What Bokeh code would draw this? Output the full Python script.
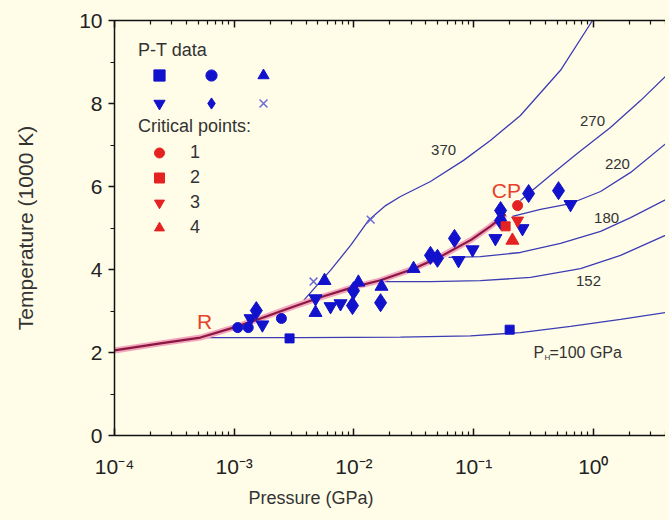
from bokeh.plotting import figure
from bokeh.models import (FixedTicker, LogAxis, Range1d, Legend, LegendItem, Label, Title,
                          CustomJSTickFormatter, GlobalInlineStyleSheet)
from bokeh.embed import file_html
from bokeh.resources import INLINE

FONT = "Liberation Sans"
BG = "#FFFDE8"
BLUE = "#1212CC"
LINE_BLUE = "#3C3CB4"
RED = "#E42222"
TXT = "#333333"

# ---------------- data ----------------
# axis ticks
X_TICKS = [1e-4, 1e-3, 1e-2, 1e-1, 1e0]
X_LABELS = ["10\u207b\u2074", "10\u207b\u00b3", "10\u207b\u00b2", "10\u207b\u00b9", "10\u2070"]
Y_TICKS = [0, 2, 4, 6, 8, 10]
Y_MINOR = [1, 3, 5, 7, 9]

# liquid-vapour (saturation) curve, P in GPa, T in 1000 K
SAT_P = [1e-4, 2.42e-4, 5.22e-4, 9.86e-4, 1.66e-3, 2.95e-3, 5.26e-3, 9.73e-3,
         1.67e-2, 3.15e-2, 5.28e-2, 9.6e-2, 0.138, 0.185]
SAT_T = [2.05, 2.22, 2.36, 2.60, 2.82, 3.08, 3.33, 3.57, 3.74, 4.02, 4.31, 4.72, 5.04, 5.33]

# release isentropes (labelled by Hugoniot pressure P_H, GPa)
ISE100_P = [5.22e-4, 3.58e-3, 0.0245, 0.0942, 0.246, 0.645, 1.69, 4.34]
ISE100_T = [2.36, 2.36, 2.37, 2.40, 2.48, 2.63, 2.80, 2.98]
ISE152_P = [0.0167, 0.0436, 0.114, 0.299, 0.782, 1.69, 4.34]
ISE152_T = [3.71, 3.71, 3.73, 3.81, 4.02, 4.34, 4.87]
ISE180_P = [0.0617, 0.114, 0.246, 0.532, 1.15, 2.05, 4.34]
ISE180_T = [4.29, 4.31, 4.41, 4.63, 4.92, 5.25, 5.73]
ISE220_P = [0.211, 0.362, 0.645, 1.15, 2.05, 4.34]
ISE220_T = [5.28, 5.45, 5.59, 5.88, 6.34, 7.11]
ISE270_P = [0.246, 0.288, 0.439, 0.738, 1.39, 2.48, 4.34]
ISE270_T = [5.66, 5.83, 6.27, 6.80, 7.42, 8.07, 8.75]
ISE370_P = [3.79e-3, 5.06e-3, 6.37e-3, 9.38e-3, 0.0132, 0.0184, 0.0245, 0.0436,
            0.0824, 0.138, 0.246, 0.532, 0.984, 1.26]
ISE370_T = [3.25, 3.66, 3.98, 4.58, 5.18, 5.54, 5.76, 6.12, 6.63, 7.11, 7.71, 8.80, 10.0, 10.48]

# P-T data sets
SQ_P = [2.90e-3, 0.200]
SQ_T = [2.34, 2.55]
CI_P = [1.07e-3, 1.31e-3, 2.48e-3]
CI_T = [2.60, 2.60, 2.82]
TR_P = [5.68e-3, 4.78e-3, 0.0109, 0.0170, 0.0315]
TR_T = [3.73, 2.96, 3.69, 3.59, 4.02]
IT_P = [1.37e-3, 1.72e-3, 4.78e-3, 6.38e-3, 7.73e-3, 0.0748, 0.098, 0.152, 0.256, 0.645]
IT_T = [2.82, 2.67, 3.30, 3.11, 3.18, 4.22, 4.48, 4.75, 4.99, 5.57]
DI_P = [1.53e-3, 9.73e-3, 9.93e-3, 0.0167, 0.0436, 0.0499, 0.0692, 0.168, 0.168, 0.288, 0.512]
DI_T = [3.01, 3.13, 3.49, 3.20, 4.34, 4.27, 4.75, 5.42, 5.18, 5.83, 5.90]
XX_P = [4.6e-3, 0.0138]
XX_T = [3.71, 5.20]

# critical points 1-4
CRIT_P = [0.233, 0.185, 0.233, 0.211]
CRIT_T = [5.54, 5.04, 5.18, 4.70]
CRIT_NAMES = ["1", "2", "3", "4"]

# curve labels
CURVE_LABELS = ["370", "270", "220", "180", "152"]
CURVE_LABEL_P = [0.0561, 0.984, 1.59, 1.29, 0.912]
CURVE_LABEL_T = [6.87, 7.57, 6.55, 5.25, 3.73]

X_MIN, X_MAX = 1e-4, 10 ** 0.603
X_MINOR = [m * 10.0 ** k for k in range(-4, 1) for m in range(2, 10)]

# ---------------- figure ----------------
p = figure(width=665, height=516, x_axis_type="log",
           x_range=Range1d(X_MIN, X_MAX), y_range=Range1d(0, 10),
           output_backend="svg", toolbar_location=None,
           min_border_left=114, min_border_right=0, min_border_top=20, min_border_bottom=81,
           background_fill_color=BG, border_fill_color=BG, outline_line_color=None)
p.grid.visible = False
p.stylesheets = [GlobalInlineStyleSheet(css="html, body { background-color: #FFFDE8; }")]

fmt_code = """
for (let i = 0; i < tv.length; i++) {
  if (Math.abs(Math.log10(tv[i]) - Math.log10(tick)) < 1e-6) return tl[i];
}
return "";
"""

xa = p.xaxis[0]
xa.ticker = FixedTicker(ticks=X_TICKS, minor_ticks=X_MINOR)
xa.formatter = CustomJSTickFormatter(args=dict(tv=X_TICKS, tl=X_LABELS), code=fmt_code)

ya = p.yaxis[0]
ya.ticker = FixedTicker(ticks=Y_TICKS, minor_ticks=Y_MINOR)
ya.axis_label = "Temperature (1000 K)"
ya.axis_label_text_font = FONT
ya.axis_label_text_font_size = "21px"
ya.axis_label_text_font_style = "normal"
ya.axis_label_text_color = TXT
ya.axis_label_standoff = 39

for ax in (xa, ya):
    ax.axis_line_color = "#111111"
    ax.axis_line_width = 1.5
    ax.major_tick_line_color = "#111111"
    ax.minor_tick_line_color = "#111111"
    ax.major_tick_line_width = 1.5
    ax.minor_tick_line_width = 1.2
    ax.major_label_text_font = FONT
    ax.major_label_text_font_size = "21px"
    ax.major_label_text_color = "#222222"

xa.major_tick_in, xa.major_tick_out = 7, 0
xa.minor_tick_in, xa.minor_tick_out = 4, 0
xa.major_label_standoff = 19

ya.major_tick_in, ya.major_tick_out = 0, 6
ya.minor_tick_in, ya.minor_tick_out = 0, 4
ya.major_label_standoff = 6

top = LogAxis(ticker=FixedTicker(ticks=X_TICKS, minor_ticks=X_MINOR),
              formatter=CustomJSTickFormatter(code="return '';"),
              major_label_text_font_size="0px", major_label_standoff=0,
              major_tick_in=7, major_tick_out=0, minor_tick_in=4, minor_tick_out=0,
              axis_line_color="#111111", axis_line_width=1.5,
              major_tick_line_color="#111111", minor_tick_line_color="#111111",
              major_tick_line_width=1.5, minor_tick_line_width=1.2)
p.add_layout(top, "above")

# x-axis title, offset to where the original has it
p.add_layout(Title(text="Pressure (GPa)", align="left", offset=134, standoff=10,
                   vertical_align="bottom", text_font=FONT, text_font_size="18px",
                   text_font_style="normal", text_color=TXT), "below")

# isentropes
for P, T in [(ISE100_P, ISE100_T), (ISE152_P, ISE152_T), (ISE180_P, ISE180_T),
             (ISE220_P, ISE220_T), (ISE270_P, ISE270_T), (ISE370_P, ISE370_T)]:
    p.line(P, T, line_color=LINE_BLUE, line_width=1.3)

# saturation curve
p.line(SAT_P, SAT_T, line_color="#F4A6BE", line_width=6)
p.line(SAT_P, SAT_T, line_color="#8A1840", line_width=2.2)

# data markers
r_sq = p.scatter(SQ_P, SQ_T, marker="square", size=9, color=BLUE)
r_ci = p.scatter(CI_P, CI_T, marker="circle", size=10, color=BLUE)
r_tr = p.scatter(TR_P, TR_T, marker="triangle", size=13, color=BLUE)
r_it = p.scatter(IT_P, IT_T, marker="inverted_triangle", size=13, color=BLUE)
r_di = p.scatter(DI_P, DI_T, marker="diamond", size=18, color=BLUE)
r_x = p.scatter(XX_P, XX_T, marker="x", size=11, line_color="#6A6AD8", line_width=1.5)

crit_markers = ["circle", "square", "inverted_triangle", "triangle"]
crit_sizes = [10, 9, 12, 13]
crit_r = []
for i in range(4):
    crit_r.append(p.scatter([CRIT_P[i]], [CRIT_T[i]], marker=crit_markers[i],
                            size=crit_sizes[i], color=RED))

# legends
common = dict(background_fill_alpha=0, border_line_color=None, padding=0, margin=0,
              title_text_font=FONT, title_text_font_size="18px", title_text_font_style="normal",
              title_text_color=TXT, label_text_font=FONT, label_text_font_size="18px",
              label_text_color=TXT, spacing=0, glyph_width=42)

leg1 = Legend(items=[LegendItem(label=" ", renderers=[r]) for r in
                     [r_sq, r_it, r_ci, r_di, r_tr, r_x]],
              title="P-T data", location=(24, 318), orientation="vertical", ncols=3,
              glyph_height=28, label_width=10, label_standoff=0, title_standoff=0, **common)
p.add_layout(leg1)

leg2 = Legend(items=[LegendItem(label=CRIT_NAMES[i], renderers=[crit_r[i]]) for i in range(4)],
              title="Critical points:", location=(24, 195), orientation="vertical",
              glyph_height=25, label_width=10, label_standoff=10, title_standoff=3, **common)
p.add_layout(leg2)

# curve labels
for txt, xp, yt in zip(CURVE_LABELS, CURVE_LABEL_P, CURVE_LABEL_T):
    p.add_layout(Label(x=xp, y=yt, text=txt, text_font=FONT, text_font_size="15px",
                       text_color=TXT, text_align="center", text_baseline="middle"))

PH_P, PH_T = 0.316, 2.0
p.add_layout(Label(x=PH_P, y=PH_T, text="P", text_font=FONT, text_font_size="16px",
                   text_color=TXT, text_baseline="middle"))
p.add_layout(Label(x=PH_P, y=PH_T, x_offset=11, y_offset=-5, text="H", text_font=FONT,
                   text_font_size="8px", text_color=TXT, text_baseline="middle"))
p.add_layout(Label(x=PH_P, y=PH_T, x_offset=16, text="=100 GPa", text_font=FONT,
                   text_font_size="16px", text_color=TXT, text_baseline="middle"))

p.add_layout(Label(x=5.65e-4, y=2.75, text="R", text_font=FONT, text_font_size="21px",
                   text_color="#E8402A", text_align="center", text_baseline="middle"))
p.add_layout(Label(x=0.188, y=5.90, text="CP", text_font=FONT, text_font_size="21px",
                   text_color="#E8402A", text_align="center", text_baseline="middle"))

open("out.html", "w").write(file_html(p, INLINE, title="P-T diagram"))
